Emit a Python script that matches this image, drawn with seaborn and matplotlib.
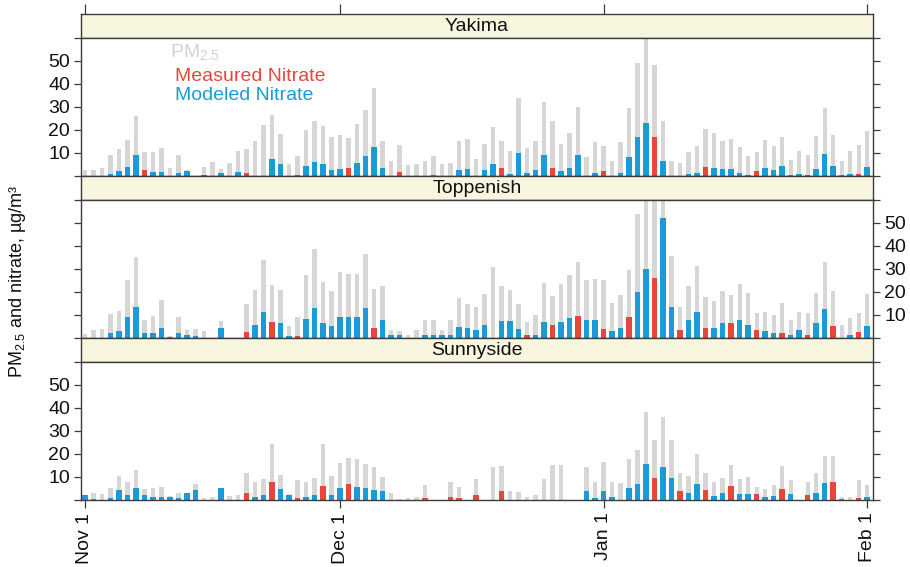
import numpy as np
import pandas as pd
import seaborn as sns
import matplotlib.pyplot as plt

nan = np.nan

sites = ['Yakima', 'Toppenish', 'Sunnyside']
tick_days = [0, 30, 61, 92]
tick_labels = ['Nov 1', 'Dec 1', 'Jan 1', 'Feb 1']

# daily PM2.5 (ug/m3), Nov 1 .. Feb 1
pm_yakima = [2.6, 2.4, 3.3, 9.2, 11.8, 15.6, 26, 10.2, 10.5, 12,
             3.5, 8.9, 2.5, nan, 4.1, 5.9, 3.2, 5.5, 10.9, 11.9,
             15, 22.3, 26.4, 18, 5, 8.6, 20, 24, 21.7, 16.7,
             17.9, 16.4, 22.4, 28.7, 38, 15, 6.3, 13.6, 4.9, 5.3,
             6.4, 8.7, 5.3, 5.7, 15.3, 16, 7.4, 13.9, 21.3, 15.3,
             10.7, 33.9, 12, 15, 32, 24, 13.9, 18.6, 30, 8.1,
             14.6, 13, 6.4, 14.6, 29.6, 48.9, 59.5, 48, 24, 6.7,
             5.7, 10.3, 12.9, 20.3, 18.6, 15.3, 16, 12.4, 8.6, 10.3,
             15.7, 13.1, 17.1, 7, 10.7, 8.9, 17.4, 29.3, 17.7, 6.7,
             11, 13.6, 19.3]
pm_toppenish = [1.7, 3.4, 3.7, 10.3, 11.6, 25.2, 35.3, 7.9, 9.7, 16.4,
                0.8, 9, 3.6, 3.8, 2.9, nan, 7.2, nan, nan, 14.6,
                21, 33.6, 22.9, 21, 5.3, 9.3, 27.1, 38.6, 24.3, 20.3,
                28.6, 27.9, 27.9, 36.4, 21.1, 22.6, 3.6, 3.1, 1.4, 3.6,
                7.9, 7.6, 3.3, 7.8, 17.2, 14.6, 13.3, 19, 30.7, 22.4,
                20.7, 14.6, 7, 10, 23.9, 18.3, 23.6, 27.1, 32.9, 25,
                25.7, 25, 15, 18.6, 29.3, 53.6, 70, 72, 66, 35.7,
                13.6, 22.4, 31.4, 17.9, 16.1, 20.4, 18.6, 23.6, 19.6, 10.7,
                11.1, 10, 15, 7.6, 11.4, 10.7, 19.6, 33, 20.4, 5.7,
                8.6, 11, 18.9]
pm_sunnyside = [2.2, 2.9, 2.5, 5.4, 10.4, 8, 13, 4.6, 5, 5.8,
                1.7, 3.2, 3.2, 6.8, 1, 1.3, 5.4, 1.7, 2, 11.9,
                8, 9, 24.2, 10.7, 2.5, 8.7, 7.8, 9.7, 24.2, 10.4,
                15.9, 18.1, 17.7, 15.5, 14.3, 9.9, 2.9, 0.6, 0.7, 1.5,
                6.5, nan, nan, 7.7, 5.5, nan, 8.9, nan, 14.4, 14.6,
                4, 3.4, 1.4, 2, 9.2, 15.2, 15.2, nan, nan, 14.3,
                8, 16.6, 7.9, 7.4, 17.9, 21.5, 38.3, 25.8, 35.8, 25.8,
                11.6, 10.3, 20, 11.9, 7.6, 9.6, 15, 8.9, 9.9, 5.5,
                4.8, 6.4, 14.7, 8.6, nan, 7.8, 11.6, 18.9, 18.9, 1.5,
                1.3, 8.6, 6.7]

# nitrate bar shown for each day
no3_yakima = [nan, nan, nan, 0.8, 2.2, 3.7, 9, 2.4, 1.9, 1.9,
              nan, 1.2, 2.2, nan, 0.5, nan, 1.2, nan, 1.6, 1.2,
              nan, nan, 7.4, 5, nan, 0.4, 4.3, 6, 5, 2.4,
              2.9, 3.6, 5.7, 8.6, 12.4, 3.6, nan, 1.6, nan, nan,
              nan, 0.4, nan, nan, 2.6, 3.1, nan, 2.4, 5, 3.6,
              0.7, 9.9, 1.4, 2.4, 8.9, 3.4, 2, 3.6, 8.9, nan,
              1.3, 2.1, nan, 1.3, 8.1, 16.7, 23, 16.7, 6.7, nan,
              nan, 0.7, 1.3, 4.1, 3.6, 3.1, 3.1, 1.4, 0.4, 2,
              3.4, 2.7, 4.3, 0.4, 1, 0.4, 3.1, 9.6, 4.3, 0.4,
              1, 0.7, 3.9]
no3_toppenish = [nan, nan, nan, 2.3, 3.2, 8.9, 13.6, 2.3, 2.3, 4.3,
                 0.5, 2, 1.4, 0.9, nan, nan, 4.2, nan, nan, 2.8,
                 5.7, 11.2, 7, 6.7, 0.7, 0.7, 8.1, 12.9, 6.4, 5,
                 9, 9, 9, 12.9, 4.3, 7.9, 1.1, 1.1, nan, nan,
                 1.1, 1.1, 1.1, 1.1, 4.6, 4.3, 3.6, 5.7, nan, 7.4,
                 7.4, 4, 1.4, 1.4, 7.1, 5.7, 7.1, 8.6, 9.7, 7.9,
                 7.9, 4, 3.1, 4.3, 9.3, 20, 30, 26, 52, 13.3,
                 3.6, 7.6, 11.1, 4.3, 4.3, 6.4, 6.4, 7.6, 5.7, 3.6,
                 2.9, 2.1, 2.1, 1.4, 3.3, 1.4, 6.4, 12.4, 5, nan,
                 1.4, 2.4, 5.4]
no3_sunnyside = [2.2, 0.5, nan, 1, 4.3, 2.3, 5.4, 2.3, 1.3, 1.3,
                 1.3, 1, 3.2, 4.3, nan, nan, 5.4, nan, nan, 2.9,
                 1.4, 2, 7.8, 4.9, 2, 1, 1.4, 2, 6.1, 2.2,
                 5, 6.8, 5.8, 5, 4.3, 3.9, nan, nan, nan, nan,
                 1, nan, nan, 1.2, 0.9, nan, 2.3, nan, nan, 4,
                 nan, nan, nan, nan, nan, nan, nan, nan, nan, 3.8,
                 1, 3.8, 1.1, nan, 5.1, 7.1, 15.7, 9.6, 14.4, 9.6,
                 4, 3, 7.1, 4.5, 1.6, 3, 6, 2.8, 2.8, 2.6,
                 1.2, 1.6, 4.9, 2.8, nan, 2, 3.2, 7.3, 7.7, 0.5,
                 nan, 0.9, 1.3]

# M = measured nitrate, D = modeled nitrate, . = none
src_yakima = ('...DDDDMDD' '.DD.M.D.DM' '..DD.MDDDD' 'DMDDDD.M..' '.D..DD.DDM'
              'DDDDDMDDD.' 'DM.DDDDMD.' '.DDMDDDDDM' 'DDDDDMDDDD' 'DMD')
src_toppenish = ('...DDDDDDD' 'DDDD..D..M' 'DDMDDMDDDD' 'DDDDMDDD..' 'DDDDDDDD.D'
                 'DDMDDMDDMD' 'DMDDMDDMDD' 'MDDMDDMDDM' 'DDMDDMDDM.' 'DMD')
src_sunnyside = ('DD.DDDDDDD' 'DDDD..D..M' 'DDMDDMDDMD' 'DMDDDD....' 'M..MM.M..M'
                 '.........D' 'DDD.DDDMDD' 'MDDMDDMDDM' 'DDMD.MDDMD' '.MD')

GRAY = '#d6d6d6'
RED = '#e8463d'
BLUE = '#1a9bd7'
STRIP = '#f8f6df'
LINE = '#3c3c3c'

frames = []
for site, pm, no3, src in zip(sites,
                              [pm_yakima, pm_toppenish, pm_sunnyside],
                              [no3_yakima, no3_toppenish, no3_sunnyside],
                              [src_yakima, src_toppenish, src_sunnyside]):
    d = pd.DataFrame({'day': np.arange(len(pm)), 'pm': pm, 'no3': no3, 'src': list(src)})
    d['site'] = site
    frames.append(d)
df = pd.concat(frames, ignore_index=True)
df['src'] = df['src'].map({'M': 'Measured Nitrate', 'D': 'Modeled Nitrate'})

sns.set_theme(style='white')
plt.rcParams['font.family'] = ['Liberation Sans', 'DejaVu Sans']
plt.rcParams['mathtext.fontset'] = 'custom'
plt.rcParams['mathtext.rm'] = 'Liberation Sans'
plt.rcParams['mathtext.it'] = 'Liberation Sans:italic'

W, H = 910, 567
fig = plt.figure(figsize=(W / 100, H / 100), dpi=100)


def box(top, h):
    return [81 / W, 1 - (top + h) / H, 792 / W, h / H]


order = list(range(len(pm_yakima)))
strip_h, panel_h = 23.5, 138.5
xlim = (-0.47, 92.7)

for i, site in enumerate(sites):
    top = 14 + i * (strip_h + panel_h)
    sax = fig.add_axes(box(top, strip_h))
    ax = fig.add_axes(box(top + strip_h, panel_h))
    sub = df[df['site'] == site]

    sns.barplot(data=sub, x='day', y='pm', order=order, color=GRAY, width=0.48,
                saturation=1, errorbar=None, linewidth=0, ax=ax)
    sns.barplot(data=sub.dropna(subset=['src']), x='day', y='no3', hue='src', order=order,
                hue_order=['Measured Nitrate', 'Modeled Nitrate'],
                palette={'Measured Nitrate': RED, 'Modeled Nitrate': BLUE},
                dodge=False, width=0.68, saturation=1, errorbar=None, linewidth=0,
                legend=False, ax=ax)

    ax.set_xlim(*xlim)
    ax.set_ylim(0, 60)
    ax.set_xlabel('')
    ax.set_ylabel('')
    ax.set_yticks(range(0, 61, 10))
    ax.set_yticklabels(['', '10', '20', '30', '40', '50', ''])
    labels_right = (site == 'Toppenish')
    ax.tick_params(axis='y', left=True, right=True, labelleft=not labels_right,
                   labelright=labels_right, direction='out', length=5, width=0.9,
                   color=LINE, labelsize=14, labelcolor='#111111', pad=3)
    if site == 'Sunnyside':
        ax.set_xticks(tick_days)
        ax.set_xticklabels(tick_labels, rotation=90, fontsize=14, color='#111111')
        ax.tick_params(axis='x', bottom=True, direction='out', length=6, width=0.9,
                       color=LINE, pad=3)
    else:
        ax.set_xticks([])
    for s in ax.spines.values():
        s.set_color(LINE)
        s.set_linewidth(1.0)

    sax.set_facecolor(STRIP)
    sax.set_xlim(*xlim)
    sax.set_yticks([])
    if site == 'Yakima':
        sax.set_xticks(tick_days)
        sax.tick_params(axis='x', top=True, bottom=False, labeltop=False, labelbottom=False,
                        direction='out', length=7, width=0.9, color=LINE)
    else:
        sax.set_xticks([])
    for s in sax.spines.values():
        s.set_color(LINE)
        s.set_linewidth(1.0)
    sax.text(0.5, 0.47, site, transform=sax.transAxes, ha='center', va='center',
             fontsize=14, color='#111111')

    if site == 'Yakima':
        ax.text(0.113, 0.86, 'PM$_{2.5}$', transform=ax.transAxes, fontsize=14,
                color='#d2d2d2', va='baseline')
        ax.text(0.119, 0.683, 'Measured Nitrate', transform=ax.transAxes, fontsize=14,
                color=RED, va='baseline')
        ax.text(0.119, 0.55, 'Modeled Nitrate', transform=ax.transAxes, fontsize=14,
                color=BLUE, va='baseline')

fig.text(18 / W, 1 - 281 / H, 'PM$_{2.5}$ and nitrate, µg/m³', rotation=90,
         ha='center', va='center', fontsize=13, color='#111111')

fig.savefig('out.png', dpi=100)
